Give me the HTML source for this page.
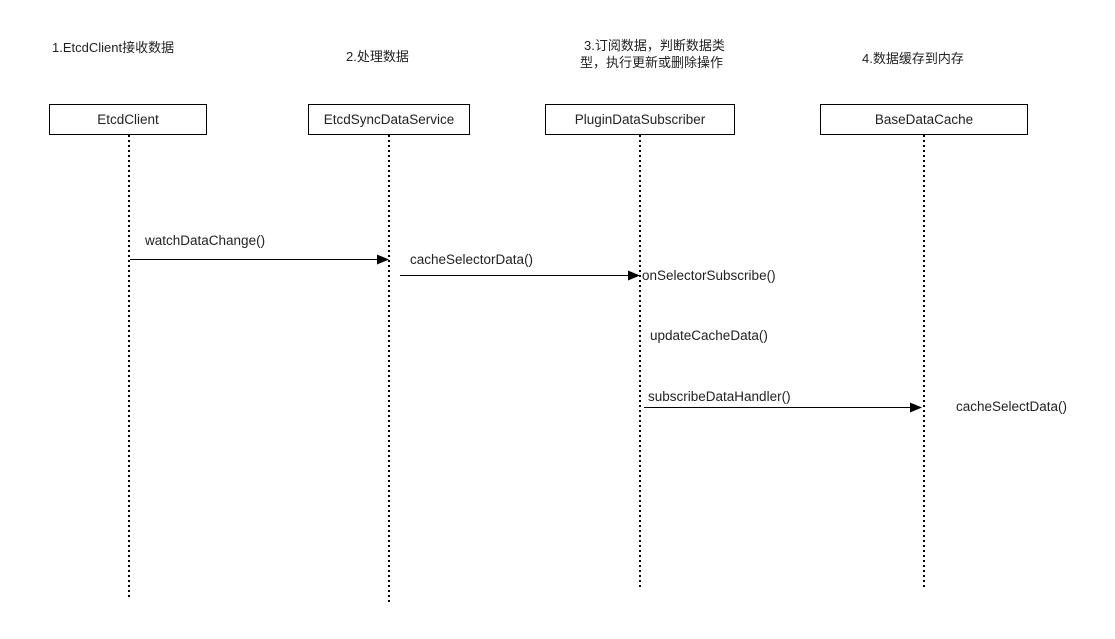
<!DOCTYPE html>
<html><head><meta charset="utf-8"><style>
body{margin:0;background:#fff;}
svg text{font-family:"Liberation Sans","Noto Sans CJK SC",sans-serif;font-size:13px;fill:#222;}
</style></head><body>
<svg width="1115" height="634" xmlns="http://www.w3.org/2000/svg">
<defs><marker id="a" markerWidth="12" markerHeight="10" refX="11" refY="5" orient="auto" markerUnits="userSpaceOnUse"><path d="M0,0 L12,5 L0,10 z" fill="#000"/></marker></defs>
<text x="52" y="52">1.EtcdClient接收数据</text>
<text x="346" y="61">2.处理数据</text>
<text x="584" y="50">3.订阅数据，判断数据类</text>
<text x="580" y="67">型，执行更新或删除操作</text>
<text x="862" y="63">4.数据缓存到内存</text>
<g fill="#fff" stroke="#000" stroke-width="1">
<rect x="49.5" y="104.5" width="157" height="30"/>
<rect x="308.5" y="104.5" width="161" height="30"/>
<rect x="545.5" y="104.5" width="189" height="30"/>
<rect x="820.5" y="104.5" width="207" height="30"/>
</g>
<text x="128" y="124" text-anchor="middle" style="font-size:13.5px">EtcdClient</text>
<text x="389" y="124" text-anchor="middle" style="font-size:13.5px">EtcdSyncDataService</text>
<text x="640" y="124" text-anchor="middle" style="font-size:13.5px">PluginDataSubscriber</text>
<text x="924" y="124" text-anchor="middle" style="font-size:13.5px">BaseDataCache</text>
<g stroke="#000" stroke-width="2" stroke-dasharray="2,3">
<line x1="129" y1="135" x2="129" y2="597"/>
<line x1="389" y1="135" x2="389" y2="605"/>
<line x1="640" y1="135" x2="640" y2="588"/>
<line x1="924" y1="135" x2="924" y2="590"/>
</g>
<g stroke="#000" stroke-width="1">
<line x1="130" y1="259.5" x2="388" y2="259.5" marker-end="url(#a)"/>
<line x1="400" y1="275.5" x2="639" y2="275.5" marker-end="url(#a)"/>
<line x1="644" y1="407.5" x2="921" y2="407.5" marker-end="url(#a)"/>
</g>
<text x="145" y="245" style="font-size:13.5px">watchDataChange()</text>
<text x="410" y="264" style="font-size:13.5px">cacheSelectorData()</text>
<text x="642" y="280" style="font-size:13.5px">onSelectorSubscribe()</text>
<text x="650" y="340" style="font-size:13.5px">updateCacheData()</text>
<text x="648" y="401" style="font-size:13.5px">subscribeDataHandler()</text>
<text x="956" y="411" style="font-size:13.5px">cacheSelectData()</text>
</svg>
</body></html>
